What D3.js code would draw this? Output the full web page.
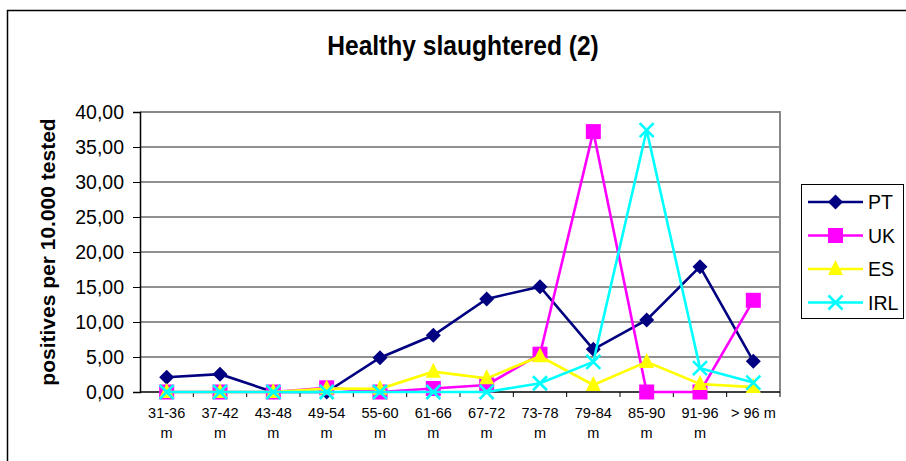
<!DOCTYPE html>
<html><head><meta charset="utf-8">
<script src="https://cdn.jsdelivr.net/npm/d3@7"></script>
<style>body{margin:0;background:#fff}svg{display:block;font-family:Arial,"Liberation Sans",sans-serif}</style>
</head><body>
<svg id="c" width="906" height="461"></svg>
<script>
const categories = ["31-36 m","37-42 m","43-48 m","49-54 m","55-60 m","61-66 m","67-72 m","73-78 m","79-84 m","85-90 m","91-96 m","> 96 m"];
const PT  = [2.1, 2.55, 0, 0, 4.9, 8.1, 13.3, 15.05, 6.1, 10.3, 17.9, 4.4];
const UK  = [0, 0, 0, 0.6, 0, 0.5, 1.0, 5.4, 37.2, 0, 0, 13.1];
const ES  = [0, 0, 0, 0.5, 0.45, 2.9, 1.95, 5.1, 1.0, 4.3, 1.15, 0.7];
const IRL = [0, 0, 0, 0, 0, 0, 0, 1.25, 4.3, 37.4, 3.4, 1.35];
const yTicks = [0,5,10,15,20,25,30,35,40];
const seriesNames = ["PT","UK","ES","IRL"];
const seriesColors = ["#000080","#FF00FF","#FFFF00","#00FFFF"];
const seriesShapes = ["diamond","square","triangle","cross"];
const title = "Healthy slaughtered (2)";
const yTitle = "positives per 10.000 tested";

const svg = d3.select("#c");
const L = 140, R = 780, T = 112, B = 392;
const x = d3.scaleBand().domain(categories).range([L, R]);
const y = d3.scaleLinear().domain([0, 40]).range([B, T]);
const fmt = v => d3.format(".2f")(v).replace(".", ",");

// outer border
svg.append("rect").attr("x", 7.5).attr("y", 10.5).attr("width", 920).attr("height", 470)
  .attr("fill", "#fff").attr("stroke", "#000").attr("stroke-width", 1.5);

svg.append("text").attr("transform", "translate(463,54.5) scale(0.91,1)").attr("text-anchor", "middle")
  .attr("font-size", 27).attr("font-weight", "bold").text(title);

// gridlines
svg.append("g").selectAll("line").data(yTicks.slice(1, -1)).join("line")
  .attr("x1", L).attr("x2", R).attr("y1", d => y(d)).attr("y2", d => y(d))
  .attr("stroke", "#222").attr("stroke-width", 1);
// plot border top/right gray
svg.append("path").attr("d", `M${L},${T}H${R}V${B}`).attr("fill", "none")
  .attr("stroke", "#888").attr("stroke-width", 2);

// y axis
const ya = svg.append("g").attr("transform", `translate(${L},0)`)
  .call(d3.axisLeft(y).tickValues(yTicks).tickFormat(fmt).tickSize(7).tickPadding(9));
ya.selectAll("text").attr("font-size", 19.5).attr("font-family", "Arial,'Liberation Sans',sans-serif").attr("fill", "#000");
ya.selectAll("line").attr("stroke", "#000");
ya.select(".domain").attr("stroke", "#000").attr("stroke-width", 1.5);

// x axis
const xa = svg.append("g").attr("transform", `translate(0,${B})`);
xa.append("line").attr("x1", L).attr("x2", R).attr("stroke", "#000").attr("stroke-width", 1.5);
xa.selectAll("line.t").data(categories).join("line").attr("class", "t")
  .attr("x1", d => x(d) + x.bandwidth()).attr("x2", d => x(d) + x.bandwidth())
  .attr("y1", 0).attr("y2", 5).attr("stroke", "#000");
const xl = xa.selectAll("text.l").data(categories).join("text").attr("class", "l")
  .attr("text-anchor", "middle").attr("font-size", 14.5)
  .attr("transform", d => `translate(${x(d) + x.bandwidth() / 2},0)`);
xl.each(function(d) {
  const lines = d.startsWith(">") ? [d] : d.split(" ");
  d3.select(this).selectAll("tspan").data(lines).join("tspan")
    .attr("x", 0).attr("y", (l, i) => 26 + i * 20).text(l => l);
});

// y title
svg.append("text").attr("transform", `translate(55,252) rotate(-90)`).attr("text-anchor", "middle")
  .attr("font-size", 21).attr("font-weight", "bold").text(yTitle);

function marker(g, shape, color, cx, cy) {
  if (shape === "diamond") {
    g.append("path").attr("d", `M${cx},${cy-7.5}L${cx+7.5},${cy}L${cx},${cy+7.5}L${cx-7.5},${cy}Z`).attr("fill", color);
  } else if (shape === "square") {
    g.append("rect").attr("x", cx - 7.5).attr("y", cy - 7.5).attr("width", 15).attr("height", 15).attr("fill", color);
  } else if (shape === "triangle") {
    g.append("path").attr("d", `M${cx},${cy-9}L${cx+7.5},${cy+6}L${cx-7.5},${cy+6}Z`).attr("fill", color);
  } else {
    g.append("path").attr("d", `M${cx-7},${cy-7}L${cx+7},${cy+7}M${cx-7},${cy+7}L${cx+7},${cy-7}`)
      .attr("stroke", color).attr("stroke-width", 2.6);
  }
}

const allData = [PT, UK, ES, IRL];
const line = d3.line().x((d, i) => x(categories[i]) + x.bandwidth() / 2).y(d => y(d));
allData.forEach((vals, si) => {
  const g = svg.append("g");
  g.append("path").datum(vals).attr("d", line).attr("fill", "none")
    .attr("stroke", seriesColors[si]).attr("stroke-width", 2.6);
  vals.forEach((v, i) => marker(g, seriesShapes[si], seriesColors[si], x(categories[i]) + x.bandwidth() / 2, y(v)));
});

// legend
const lg = svg.append("g");
lg.append("rect").attr("x", 801.5).attr("y", 184.5).attr("width", 102).attr("height", 134)
  .attr("fill", "#fff").attr("stroke", "#000");
seriesNames.forEach((n, i) => {
  const cy = 202 + i * 33.5;
  lg.append("line").attr("x1", 808).attr("x2", 863).attr("y1", cy).attr("y2", cy)
    .attr("stroke", seriesColors[i]).attr("stroke-width", 2.6);
  marker(lg, seriesShapes[i], seriesColors[i], 835.5, cy);
  lg.append("text").attr("x", 868).attr("y", cy + 7).attr("font-size", 19.5).text(n);
});
</script>
</body></html>
